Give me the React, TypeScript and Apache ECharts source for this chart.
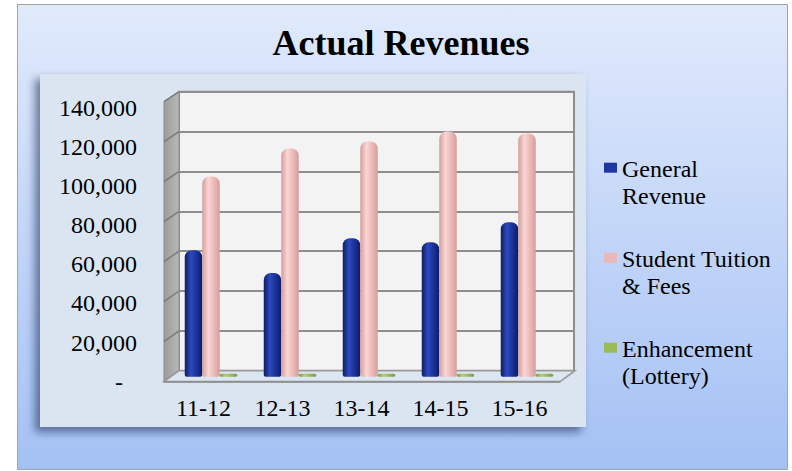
import React, { useEffect, useRef } from "react";
import * as echarts from "echarts";

const categories = ["11-12", "12-13", "13-14", "14-15", "15-16"];
const generalRevenue = [63500, 52000, 69500, 67500, 77500];
const tuitionFees = [100500, 114500, 118000, 123000, 122000];
const enhancement = [1000, 1000, 1000, 1000, 1000];
const yTicks = [0, 20000, 40000, 60000, 80000, 100000, 120000, 140000];
const seriesNames = ["General Revenue", "Student Tuition & Fees", "Enhancement (Lottery)"];
const legendTexts = ["General\nRevenue", "Student Tuition\n& Fees", "Enhancement\n(Lottery)"];
const legendColors = ["#1f36a0", "#e8b9b8", "#9bbb59"];

const Y_MAX = yTicks[yTicks.length - 1];
const Y_STEP = yTicks[1] - yTicks[0];

// layout (3D look: back wall, mid plane for bars, front plane for labels)
const BACK = { left: 179, top: 91.7, width: 395, height: 279 };
const DX = -7.5;
const DY = 6;
const FRONT = { left: 164, top: 101.7, width: 395, height: 280 };
const LABELS = { left: 164, top: 108, width: 395, height: 273.6 };
const LEGEND = { iconX: 604, textX: 622, firstTop: 162.7, step: 90, lineHeight: 27 };
const FONT = "'Liberation Serif', 'Times New Roman', serif";

function cyl(edge: string, mid: string, light: string) {
  return new echarts.graphic.LinearGradient(0, 0, 1, 0, [
    { offset: 0, color: edge },
    { offset: 0.35, color: light },
    { offset: 0.6, color: mid },
    { offset: 1, color: edge },
  ]);
}

export default function App() {
  const ref = useRef<HTMLDivElement>(null);
  useEffect(() => {
    if (!ref.current) return;
    const chart = echarts.init(ref.current, null, { renderer: "svg" });
    const backBottom = BACK.top + BACK.height;
    const frontBottom = FRONT.top + FRONT.height;
    const wallLines = yTicks.map((v) => ({
      type: "line",
      z: 1,
      shape: {
        x1: FRONT.left,
        y1: frontBottom - (v / Y_MAX) * FRONT.height,
        x2: BACK.left,
        y2: backBottom - (v / Y_MAX) * BACK.height,
      },
      style: { stroke: "#7a7a7a", lineWidth: 1.5 },
    }));
    const legendItems = seriesNames.map((name, i) => ({
      type: "group",
      name,
      z: 5,
      children: [
        {
          type: "rect",
          shape: { x: LEGEND.iconX, y: LEGEND.firstTop + i * LEGEND.step, width: 13, height: 10 },
          style: { fill: legendColors[i] },
        },
        {
          type: "text",
          x: LEGEND.textX,
          y: LEGEND.firstTop - 7.5 + i * LEGEND.step,
          style: {
            text: legendTexts[i],
            fontFamily: FONT,
            fontSize: 24,
            lineHeight: LEGEND.lineHeight,
            fill: "#000",
            verticalAlign: "top",
            align: "left",
          },
        },
      ],
    }));
    const grids = [
      {
        left: BACK.left,
        top: BACK.top,
        width: BACK.width,
        height: BACK.height,
        show: true,
        backgroundColor: "#f3f3f3",
        borderColor: "#8e8e8e",
        borderWidth: 2,
      },
      {
        left: BACK.left + DX,
        top: BACK.top + DY,
        width: BACK.width,
        height: BACK.height,
      },
      { left: LABELS.left, top: LABELS.top, width: LABELS.width, height: LABELS.height },
    ];
    chart.setOption({
      animation: false,
      title: {
        text: "Actual Revenues",
        left: 396,
        textAlign: "center",
        top: 20,
        textStyle: { fontFamily: FONT, fontSize: 36, fontWeight: "bold", color: "#000" },
      },
      graphic: [
        {
          type: "rect",
          z: -20,
          shape: { x: 17.5, y: 4.5, width: 770, height: 465 },
          style: {
            fill: new echarts.graphic.LinearGradient(0, 0, 0, 1, [
              { offset: 0, color: "#e1eafc" },
              { offset: 1, color: "#a4c1f4" },
            ]),
            stroke: "#a3a3a3",
            lineWidth: 1,
          },
        },
        {
          type: "rect",
          z: -10,
          shape: { x: 40, y: 74, width: 546, height: 353 },
          style: {
            fill: "#dbe5f1",
            shadowBlur: 8,
            shadowOffsetX: -5,
            shadowOffsetY: 5,
            shadowColor: "rgba(20,30,70,0.55)",
          },
        },
        {
          type: "polygon",
          z: 1,
          shape: {
            points: [
              [FRONT.left, FRONT.top],
              [BACK.left, BACK.top],
              [BACK.left, backBottom],
              [FRONT.left, frontBottom],
            ],
          },
          style: {
            fill: new echarts.graphic.LinearGradient(0, 0, 1, 0, [
              { offset: 0, color: "#9c9c9c" },
              { offset: 1, color: "#b8b8b8" },
            ]),
            stroke: "#8a8a8a",
            lineWidth: 1,
          },
        },
        ...wallLines,
        {
          type: "polygon",
          z: 1,
          shape: {
            points: [
              [FRONT.left, frontBottom],
              [BACK.left, backBottom],
              [BACK.left + BACK.width + 1, backBottom],
              [FRONT.left + FRONT.width + 1, frontBottom],
            ],
          },
          style: { fill: "#dce6f2", stroke: "#9a9a9a", lineWidth: 1.5 },
        },
        {
          type: "line",
          z: 1,
          shape: { x1: FRONT.left, y1: frontBottom, x2: FRONT.left + FRONT.width + 1, y2: frontBottom },
          style: { stroke: "#8f8f8f", lineWidth: 2 },
        },
        ...legendItems,
      ],
      grid: grids,
      xAxis: [0, 1, 2].map((i) => ({
        type: "category",
        gridIndex: i,
        data: categories,
        show: i === 2,
        axisLine: { show: false },
        axisTick: { show: false },
        axisLabel: { show: i === 2, margin: 14, fontFamily: FONT, fontSize: 24, color: "#000" },
      })),
      yAxis: [0, 1, 2].map((i) => ({
        type: "value",
        gridIndex: i,
        min: 0,
        max: Y_MAX,
        interval: Y_STEP,
        show: i !== 1,
        axisLine: { show: false },
        axisTick: { show: false },
        splitLine: { show: i === 0, lineStyle: { color: "#8e8e8e", width: 2 } },
        axisLabel: {
          show: i === 2,
          margin: 27,
          fontFamily: FONT,
          fontSize: 24,
          color: "#000",
          formatter: (v: number) => (v === 0 ? "{d|-}" : v.toLocaleString("en-US")),
          rich: { d: { fontFamily: FONT, fontSize: 24, color: "#000", padding: [0, 14, 0, 0] } },
        },
      })),
      series: [
        {
          name: seriesNames[0],
          type: "bar",
          xAxisIndex: 1,
          yAxisIndex: 1,
          data: generalRevenue,
          barWidth: 17.5,
          barGap: "0%",
          itemStyle: { color: cyl("#0c1c66", "#1f37a3", "#2d49bd"), borderRadius: [7, 7, 2, 2] },
        },
        {
          name: seriesNames[1],
          type: "bar",
          xAxisIndex: 1,
          yAxisIndex: 1,
          data: tuitionFees,
          barWidth: 17.5,
          barGap: "0%",
          itemStyle: { color: cyl("#d49e9c", "#f0c0be", "#fad6d4"), borderRadius: [7, 7, 2, 2] },
        },
        {
          name: seriesNames[2],
          type: "bar",
          xAxisIndex: 1,
          yAxisIndex: 1,
          data: enhancement,
          barWidth: 17.5,
          barGap: "0%",
          barMinHeight: 3,
          itemStyle: { color: cyl("#7e9a45", "#9bbb59", "#b3cf74"), borderRadius: 2 },
        },
      ],
    });
    return () => chart.dispose();
  }, []);
  return (
    <div style={{ position: "fixed", left: 0, top: 0, width: 792, height: 471, background: "#fff" }}>
      <div ref={ref} style={{ width: 792, height: 471 }} />
    </div>
  );
}
